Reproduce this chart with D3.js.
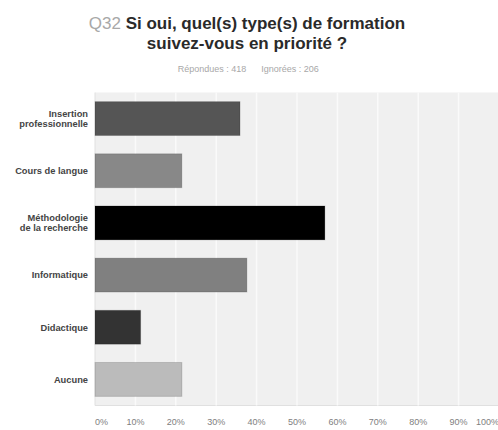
<!DOCTYPE html>
<html>
<head>
<meta charset="utf-8">
<script src="https://cdn.jsdelivr.net/npm/d3@7"></script>
<style>
  body { margin: 0; background: #fff; }
  svg { display: block; font-family: "Liberation Sans", Arial, sans-serif; }
</style>
</head>
<body>
<div id="chart_div"></div>
<script>
var chart_width = 498;
var chart_height = 430;

// data (percent of respondents)
var categories = [
    ["Insertion", "professionnelle"],
    ["Cours de langue"],
    ["Méthodologie", "de la recherche"],
    ["Informatique"],
    ["Didactique"],
    ["Aucune"]
];
var values = [35.9, 21.5, 56.9, 37.6, 11.3, 21.5];
var bar_colours = ["#555555", "#888888", "#000000", "#808080", "#333333", "#bbbbbb"];
var ticks = [0, 10, 20, 30, 40, 50, 60, 70, 80, 90, 100];

var plot_left = 95;
var plot_right = 499;
var plot_top = 92.5;
var plot_bottom = 405.5;

var svg = d3.select("#chart_div")
    .append("svg")
    .attr("width", chart_width)
    .attr("height", chart_height);

// title
var title = svg.append("text")
    .attr("x", 247)
    .attr("y", 29)
    .attr("text-anchor", "middle")
    .style("font-size", "17px")
    .style("font-weight", "bold")
    .style("fill", "#2a2a2a");
title.append("tspan").style("fill", "#a8a8a8").style("font-weight", "normal").text("Q32 ");
title.append("tspan").text("Si oui, quel(s) type(s) de formation");

svg.append("text")
    .attr("x", 247)
    .attr("y", 49)
    .attr("text-anchor", "middle")
    .style("font-size", "17px")
    .style("font-weight", "bold")
    .style("fill", "#2a2a2a")
    .text("suivez-vous en priorité ?");

svg.append("text")
    .attr("x", 212)
    .attr("y", 72)
    .attr("text-anchor", "middle")
    .style("font-size", "9px")
    .style("fill", "#a8a8a8")
    .text("Répondues : 418");

svg.append("text")
    .attr("x", 290)
    .attr("y", 72)
    .attr("text-anchor", "middle")
    .style("font-size", "9px")
    .style("fill", "#a8a8a8")
    .text("Ignorées : 206");

var x = d3.scaleLinear()
    .domain([0, 100])
    .range([plot_left, plot_right]);

var y = d3.scaleBand()
    .domain(d3.range(categories.length))
    .range([plot_top, plot_bottom])
    .paddingInner(0.35)
    .paddingOuter(0.175);

// plot background
svg.append("rect")
    .attr("x", plot_left)
    .attr("y", plot_top)
    .attr("width", plot_right - plot_left)
    .attr("height", plot_bottom - plot_top)
    .style("fill", "#f0f0f0");

svg.append("line")
    .attr("x1", plot_left).attr("x2", plot_left)
    .attr("y1", plot_top).attr("y2", plot_bottom)
    .style("stroke", "#e0e0e0");
svg.append("line")
    .attr("x1", plot_left).attr("x2", plot_right)
    .attr("y1", plot_bottom).attr("y2", plot_bottom)
    .style("stroke", "#e0e0e0");

// gridlines
svg.append("g")
    .selectAll("line")
    .data(ticks.slice(1, -1))
    .enter()
    .append("line")
    .attr("x1", function(d) { return x(d); })
    .attr("x2", function(d) { return x(d); })
    .attr("y1", plot_top)
    .attr("y2", plot_bottom)
    .style("stroke", "#fafafa")
    .style("stroke-width", 1.5);

// bars
svg.append("g")
    .selectAll("rect")
    .data(values)
    .enter()
    .append("rect")
    .attr("x", x(0))
    .attr("y", function(d, i) { return y(i); })
    .attr("width", function(d) { return x(d) - x(0); })
    .attr("height", y.bandwidth())
    .style("fill", function(d, i) { return bar_colours[i]; })
    .style("stroke", "rgba(0,0,0,0.15)")
    .style("stroke-width", 1);

// category labels
svg.append("g")
    .selectAll("text")
    .data(categories)
    .enter()
    .append("text")
    .attr("x", 88)
    .attr("y", function(d, i) {
        return y(i) + y.bandwidth() / 2 + 3.3 - (d.length - 1) * 5.25;
    })
    .attr("text-anchor", "end")
    .style("font-size", "9.3px")
    .style("font-weight", "bold")
    .style("fill", "#444")
    .each(function(d) {
        var el = d3.select(this);
        d.forEach(function(line, k) {
            el.append("tspan")
                .attr("x", 88)
                .attr("dy", k === 0 ? 0 : 10.5)
                .text(line);
        });
    });

// x axis labels
svg.append("g")
    .selectAll("text")
    .data(ticks)
    .enter()
    .append("text")
    .attr("x", function(d) { return x(d); })
    .attr("y", 425)
    .attr("text-anchor", function(d) {
        if (d === 0) { return "start"; }
        if (d === 100) { return "end"; }
        return "middle";
    })
    .style("font-size", "9px")
    .style("fill", "#808080")
    .text(function(d) { return d + "%"; });
</script>
</body>
</html>
